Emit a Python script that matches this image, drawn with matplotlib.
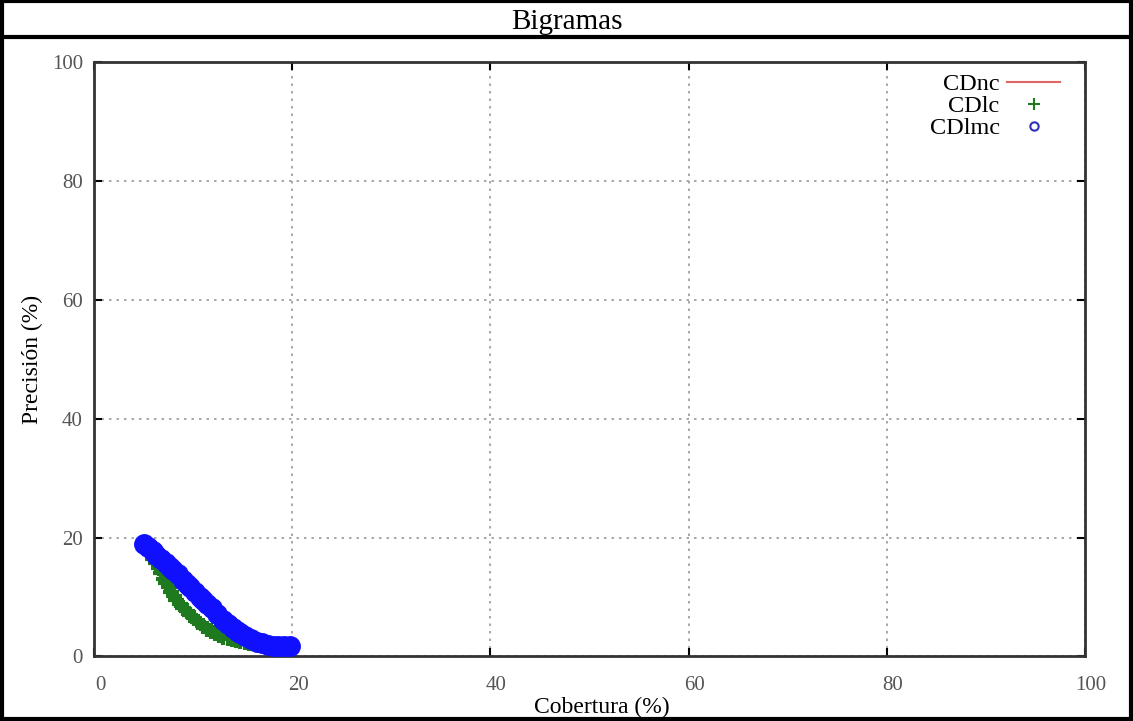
import matplotlib
matplotlib.use("Agg")
import matplotlib.pyplot as plt
import matplotlib.transforms as mtransforms
from matplotlib.lines import Line2D

# CDlmc (blue circles)
cdlmc_x = [5.0, 5.4, 5.9, 6.3, 6.8, 7.3, 7.7, 8.0, 8.5, 9.0, 9.4, 9.7,
           10.2, 10.7, 11.0, 11.4, 11.9, 12.4, 13.05, 13.5, 14.0, 14.4,
           14.7, 15.2, 15.8, 16.4, 17.0, 17.6, 18.1, 18.6, 19.2, 19.8]
cdlmc_y = [18.9, 18.4, 17.7, 17.1, 16.4, 15.7, 15.1, 14.6, 13.8, 12.9,
           12.2, 11.7, 10.9, 10.0, 9.5, 8.9, 8.1, 7.2, 6.1, 5.5, 4.8, 4.3,
           3.9, 3.4, 2.9, 2.5, 2.2, 1.95, 1.8, 1.75, 1.75, 1.8]

# CDlc (green crosses)
cdlc_x = [5.0, 5.3, 5.6, 6.0, 6.3, 6.6, 6.8, 7.1, 7.3, 7.6, 7.8, 8.1,
          8.3, 8.7, 9.0, 9.4, 9.7, 10.1, 10.5, 11.0, 11.4, 11.8, 12.2,
          12.6, 13.05, 13.5, 13.9, 14.3, 14.7, 15.2, 15.6, 16.1, 16.5,
          17.0, 17.4, 17.9, 18.3, 18.8, 19.2]
cdlc_y = [18.7, 18.0, 17.3, 16.4, 15.7, 14.8, 14.0, 13.1, 12.3, 11.6,
          10.9, 10.2, 9.5, 8.8, 8.2, 7.6, 7.0, 6.4, 5.8, 5.2, 4.7, 4.3,
          3.9, 3.6, 3.3, 3.1, 2.9, 2.75, 2.6, 2.45, 2.3, 2.2, 2.1, 2.05,
          2.0, 1.97, 1.95, 1.92, 1.9]

# CDnc (red line) is hidden under the markers
cdnc_x = cdlc_x
cdnc_y = cdlc_y

ticks = [0, 20, 40, 60, 80, 100]

plt.rcParams["font.family"] = ["Liberation Serif", "DejaVu Serif"]

fig = plt.figure(figsize=(11.33, 7.21), dpi=100)
ax = fig.add_axes([0.083, 0.0895, 0.8746, 0.825])

ax.plot(cdnc_x, cdnc_y, color="#e06666", lw=1.5, zorder=2)
ax.plot(cdlc_x, cdlc_y, ls="none", marker="+", ms=12, mew=3,
        color="#1f7a1f", zorder=3)
ax.plot(cdlmc_x, cdlmc_y, ls="none", marker="o", ms=14, mew=1,
        color="#1010ff", mfc="#1010ff", zorder=4)

ax.set_xlim(0, 100)
ax.set_ylim(0, 100)
ax.set_xticks(ticks)
ax.set_yticks(ticks)
ax.grid(True, color="#999999", ls=(0, (1.5, 3)), lw=1.2)
ax.tick_params(direction="in", length=6, width=1.5, top=True, right=True,
               labelsize=15, labelcolor="#555555")
ax.tick_params(axis="y", pad=8)
ax.tick_params(axis="x", pad=14)
for s in ax.spines.values():
    s.set_linewidth(2)
    s.set_color("#333333")

# x tick labels sit a little right of their ticks in the original
shift = mtransforms.ScaledTranslation(6 / 100, 0, fig.dpi_scale_trans)
for lbl in ax.get_xticklabels():
    lbl.set_transform(lbl.get_transform() + shift)

ax.set_xlabel("Cobertura (%)", fontsize=17, labelpad=0)
ax.xaxis.set_label_coords(0.512, -0.068)
ax.set_ylabel("Precisión (%)", fontsize=17, labelpad=6)

handles = [
    Line2D([], [], color="#e06666", lw=1.5),
    Line2D([], [], ls="none", marker="+", ms=8, mew=1.5, color="#1f7a1f"),
    Line2D([], [], ls="none", marker="o", ms=6, mew=1.5, color="#3030c0",
           mfc="none"),
]
ax.legend(handles, ["CDnc", "CDlc", "CDlmc"], loc="upper right",
          frameon=False, markerfirst=False, fontsize=17.5, handlelength=2.2,
          labelspacing=0.0, handletextpad=0.3, borderaxespad=0.2,
          bbox_to_anchor=(0.99, 1.005))

fig.text(0.5, 0.969, "Bigramas", ha="center", va="center", fontsize=21)

# table borders around the figure
for y0 in (0.998, 0.948, 0.003):
    fig.add_artist(Line2D([0, 1], [y0, y0], color="black", lw=3))
for x0 in (0.002, 0.998):
    fig.add_artist(Line2D([x0, x0], [0, 1], color="black", lw=3))

fig.savefig("out.png", dpi=100)
